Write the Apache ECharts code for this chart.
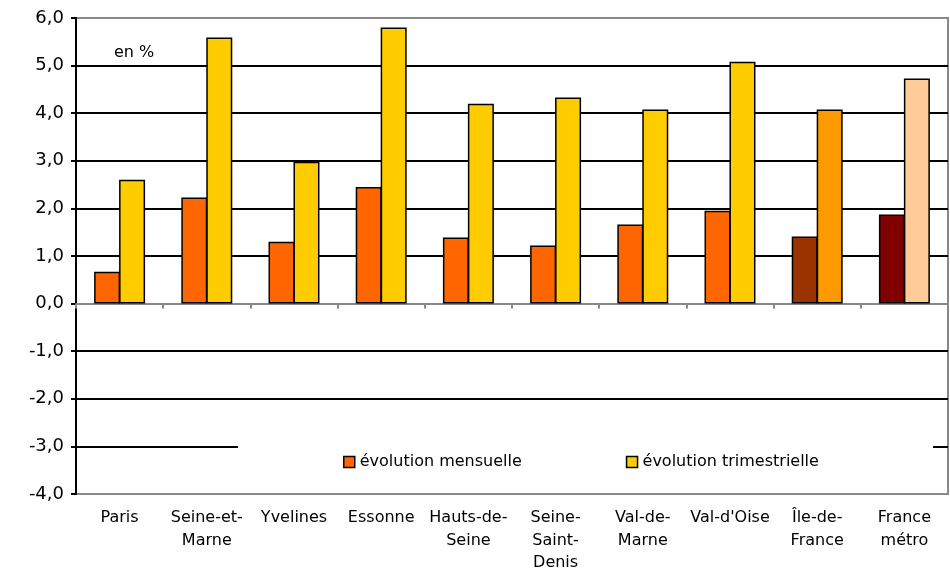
<!DOCTYPE html>
<html><head><meta charset="utf-8">
<script src="https://cdn.jsdelivr.net/npm/echarts@6/dist/echarts.min.js"></script>
<style>html,body{margin:0;padding:0;background:#fff}#c{width:950px;height:572px}</style>
</head><body><div id="c"></div>
<script>
const categories = ["Paris","Seine-et-\nMarne","Yvelines","Essonne","Hauts-de-\nSeine","Seine-\nSaint-\nDenis","Val-de-\nMarne","Val-d'Oise","Île-de-\nFrance","France\nmétro"];
const mensuelle = [0.67, 2.23, 1.30, 2.45, 1.39, 1.22, 1.66, 1.95, 1.41, 1.87];
const trimestrielle = [2.60, 5.59, 2.98, 5.80, 4.20, 4.33, 4.08, 5.08, 4.08, 4.73];
const yTicks = {min: -4, max: 6, interval: 1};
const seriesNames = ["évolution mensuelle", "évolution trimestrielle"];

const monthlyColors = ["#FF6600","#FF6600","#FF6600","#FF6600","#FF6600","#FF6600","#FF6600","#FF6600","#993300","#800000"];
const quarterColors = ["#FFCC00","#FFCC00","#FFCC00","#FFCC00","#FFCC00","#FFCC00","#FFCC00","#FFCC00","#FF9900","#FFCC99"];

const font = "DejaVu Sans";
const gridLineColors = ["#888","#000","#000","#000","#888","#000","#000","#000","#000","#000","#888"];

const chart = echarts.init(document.getElementById('c'), null, {renderer: 'canvas'});
chart.setOption({
  animation: false,
  backgroundColor: '#fff',
  textStyle: {fontFamily: font, color: '#000'},
  grid: {left: 76, right: 2, top: 18, bottom: 78, show: true, borderColor: '#888', borderWidth: 2, backgroundColor: 'transparent', outerBoundsMode: 'none', containLabel: false},
  legend: {
    left: 338, top: 449, z: 10,
    itemWidth: 11, itemHeight: 11, itemGap: 104,
    icon: 'rect',
    textStyle: {fontFamily: font, fontSize: 16, color: '#000'},
    itemStyle: {borderColor: '#000', borderWidth: 1.5},
    data: seriesNames
  },
  graphic: [
    {type: 'rect', z: 3, shape: {x: 238, y: 424, width: 695, height: 50}, style: {fill: '#fff'}},
    {type: 'text', z: 3, left: 114, top: 45, style: {text: 'en %', font: '16px "DejaVu Sans"', fill: '#000'}}
  ],
  xAxis: [
    {
      type: 'category', data: categories, gridIndex: 0,
      axisLine: {onZero: true, lineStyle: {color: '#888', width: 2}},
      axisTick: {show: true, length: 5, lineStyle: {color: '#888', width: 2}},
      axisLabel: {show: false}
    },
    {
      type: 'category', data: categories, gridIndex: 0, position: 'bottom',
      axisLine: {onZero: false, show: false},
      axisTick: {show: false},
      axisLabel: {show: true, interval: 0, fontFamily: font, fontSize: 16, color: '#000', lineHeight: 22.5, margin: 13, verticalAlign: 'top'}
    }
  ],
  yAxis: {
    type: 'value', min: yTicks.min, max: yTicks.max, interval: yTicks.interval,
    axisLine: {show: true, onZero: false, lineStyle: {color: '#000', width: 2}},
    axisTick: {show: true, length: 5, lineStyle: {color: '#000', width: 2}},
    axisLabel: {fontFamily: font, fontSize: 18, color: '#000', margin: 12,
      formatter: v => v.toFixed(1).replace('.', ',')},
    splitLine: {show: true, lineStyle: {color: gridLineColors, width: 2}}
  },
  series: [
    {
      name: seriesNames[0], type: 'bar', xAxisIndex: 0, barWidth: 26, barGap: '-4%',
      itemStyle: {color: '#FF6600', borderColor: '#000', borderWidth: 1.5},
      data: mensuelle.map((v, i) => ({value: v, itemStyle: {color: monthlyColors[i]}}))
    },
    {
      name: seriesNames[1], type: 'bar', xAxisIndex: 0, barWidth: 26, barGap: '-4%',
      itemStyle: {color: '#FFCC00', borderColor: '#000', borderWidth: 1.5},
      data: trimestrielle.map((v, i) => ({value: v, itemStyle: {color: quarterColors[i]}}))
    }
  ]
});
</script></body></html>
